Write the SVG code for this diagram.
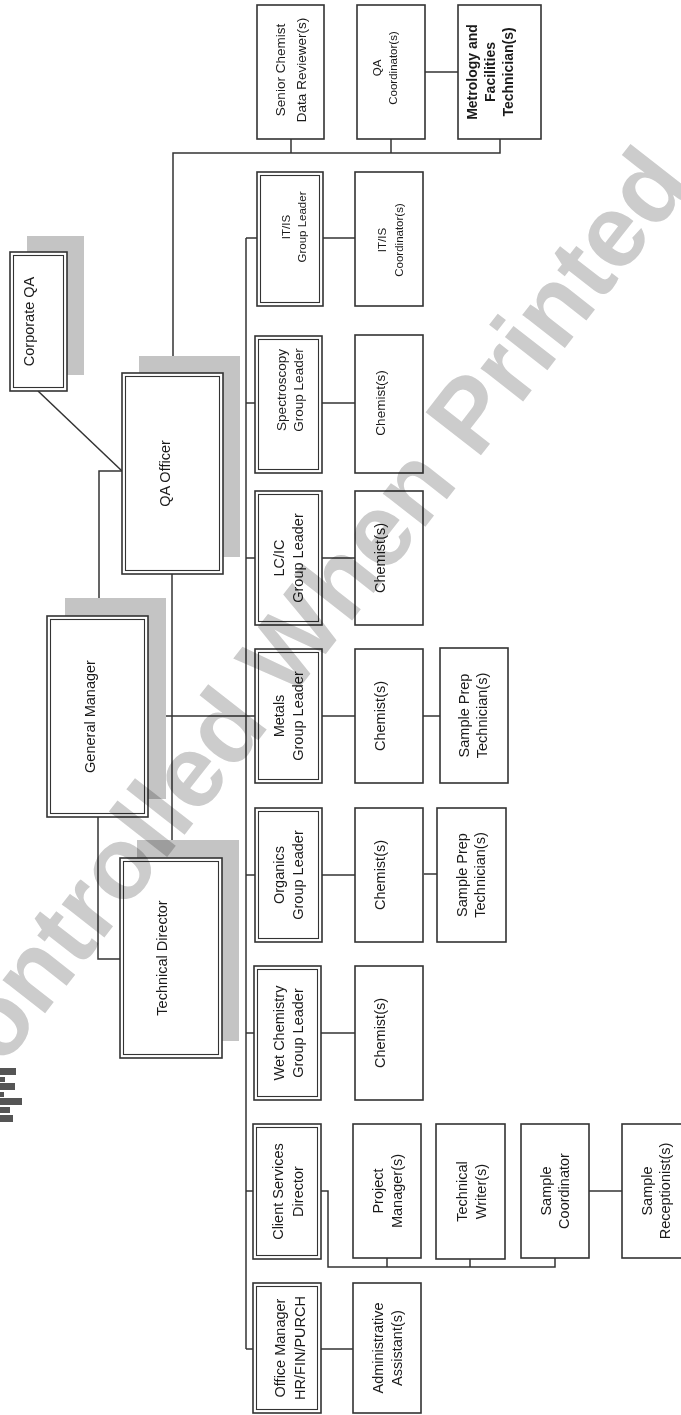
<svg xmlns="http://www.w3.org/2000/svg" width="681" height="1415" viewBox="0 0 681 1415">
<style>
.bg{fill:#fff}
.b{fill:#fff;stroke:#333;stroke-width:1.6}
.bi{fill:none;stroke:#333;stroke-width:1.1}
.sh{fill:#c4c4c4}
.c{fill:none;stroke:#333;stroke-width:1.5}
.t{font-family:"Liberation Sans",Arial,sans-serif;font-size:14.5px;fill:#1a1a1a;text-anchor:middle}
.s{font-size:11.5px}
.wm{font-family:"Liberation Sans",Arial,sans-serif;font-size:102px;font-weight:bold;fill:#cccccc;mix-blend-mode:multiply}
.logo{fill:#555}
</style>
<rect class="bg" x="0" y="0" width="681" height="1415"/>

<g id="connectors">
<line class="c" x1="38" y1="391" x2="122" y2="471"/>
<polyline class="c" points="122,471 99,471 99,616"/>
<polyline class="c" points="173,373 173,153 500,153 500,139"/>
<line class="c" x1="291" y1="153" x2="291" y2="139"/>
<line class="c" x1="391" y1="153" x2="391" y2="139"/>
<line class="c" x1="425" y1="72" x2="458" y2="72"/>
<line class="c" x1="172" y1="574" x2="172" y2="858"/>
<line class="c" x1="148" y1="716" x2="255" y2="716"/>
<polyline class="c" points="98,817 98,959 120,959"/>
<line class="c" x1="246" y1="238" x2="246" y2="1349"/>
<line class="c" x1="246" y1="238" x2="257" y2="238"/>
<line class="c" x1="246" y1="403" x2="255" y2="403"/>
<line class="c" x1="246" y1="558" x2="255" y2="558"/>
<line class="c" x1="246" y1="875" x2="255" y2="875"/>
<line class="c" x1="246" y1="1033" x2="254" y2="1033"/>
<line class="c" x1="246" y1="1191" x2="253" y2="1191"/>
<line class="c" x1="246" y1="1349" x2="253" y2="1349"/>
<line class="c" x1="323" y1="238" x2="355" y2="238"/>
<line class="c" x1="322" y1="403" x2="355" y2="403"/>
<line class="c" x1="322" y1="558" x2="355" y2="558"/>
<line class="c" x1="322" y1="716" x2="355" y2="716"/>
<line class="c" x1="322" y1="875" x2="355" y2="875"/>
<line class="c" x1="321" y1="1033" x2="355" y2="1033"/>
<line class="c" x1="321" y1="1349" x2="353" y2="1349"/>
<line class="c" x1="423" y1="716" x2="440" y2="716"/>
<line class="c" x1="424" y1="874" x2="437" y2="874"/>
<polyline class="c" points="321,1191 328,1191 328,1267 555,1267 555,1258"/>
<line class="c" x1="387" y1="1267" x2="387" y2="1258"/>
<line class="c" x1="470" y1="1267" x2="470" y2="1259"/>
<line class="c" x1="589" y1="1191" x2="622" y2="1191"/>
</g>

<g id="corporate-qa">
<rect class="sh" x="27" y="236" width="57" height="139"/>
<rect class="b" x="10" y="252" width="57" height="139"/>
<rect class="bi" x="13.5" y="255.5" width="50" height="132"/>
<text class="t" transform="translate(38.5,321.5) rotate(-90)"><tspan x="0" y="-4.5">Corporate QA</tspan></text>
</g>
<g id="qa-officer">
<rect class="sh" x="139" y="356" width="101" height="201"/>
<rect class="b" x="122" y="373" width="101" height="201"/>
<rect class="bi" x="125.5" y="376.5" width="94" height="194"/>
<text class="t" transform="translate(172.5,473.5) rotate(-90)"><tspan x="0" y="-3">QA Officer</tspan></text>
</g>
<g id="general-manager">
<rect class="sh" x="65" y="598" width="101" height="201"/>
<rect class="b" x="47" y="616" width="101" height="201"/>
<rect class="bi" x="50.5" y="619.5" width="94" height="194"/>
<text class="t" transform="translate(97.5,716.5) rotate(-90)"><tspan x="0" y="-3">General Manager</tspan></text>
</g>
<g id="technical-director">
<rect class="sh" x="137" y="840" width="102" height="201"/>
<rect class="b" x="120" y="858" width="102" height="200"/>
<rect class="bi" x="123.5" y="861.5" width="95" height="193"/>
<text class="t" transform="translate(171,958) rotate(-90)"><tspan x="0" y="-4">Technical Director</tspan></text>
</g>

<g id="senior-chemist">
<rect class="b" x="257" y="5" width="67" height="134"/>
<text class="t" style="font-size:13.5px" transform="translate(290.5,70) rotate(-90)"><tspan x="0" y="-5.5">Senior Chemist</tspan><tspan x="0" y="15.5">Data Reviewer(s)</tspan></text>
</g>
<g id="qa-coordinator">
<rect class="b" x="357" y="5" width="68" height="134"/>
<text class="t s" transform="translate(391,68) rotate(-90)"><tspan x="0" y="-10">QA</tspan><tspan x="0" y="6">Coordinator(s)</tspan></text>
</g>
<g id="metrology">
<rect class="b" x="458" y="5" width="83" height="134"/>
<text class="t" style="font-weight:bold;font-size:14px" transform="translate(499.5,72) rotate(-90)"><tspan x="0" y="-22.5">Metrology and</tspan><tspan x="0" y="-4.5">Facilities</tspan><tspan x="0" y="13.5">Technician(s)</tspan></text>
</g>

<g id="itis-leader">
<rect class="b" x="257" y="172" width="66" height="134"/>
<rect class="bi" x="260.5" y="175.5" width="59" height="127"/>
<text class="t s" transform="translate(290,227) rotate(-90)"><tspan x="0" y="-0">IT/IS</tspan><tspan x="0" y="16">Group Leader</tspan></text>
</g>
<g id="itis-coordinator">
<rect class="b" x="355" y="172" width="68" height="134"/>
<text class="t s" transform="translate(389,240) rotate(-90)"><tspan x="0" y="-3">IT/IS</tspan><tspan x="0" y="14">Coordinator(s)</tspan></text>
</g>

<g id="spectroscopy-leader">
<rect class="b" x="255" y="336" width="67" height="137"/>
<rect class="bi" x="258.5" y="339.5" width="60" height="130"/>
<text class="t" style="font-size:13.5px" transform="translate(288.5,390) rotate(-90)"><tspan x="0" y="-3">Spectroscopy</tspan><tspan x="0" y="14">Group Leader</tspan></text>
</g>
<g id="spectroscopy-chemist">
<rect class="b" x="355" y="335" width="68" height="138"/>
<text class="t" style="font-size:13.5px" transform="translate(389,403) rotate(-90)"><tspan x="0" y="-4">Chemist(s)</tspan></text>
</g>

<g id="lcic-leader">
<rect class="b" x="255" y="491" width="67" height="134"/>
<rect class="bi" x="258.5" y="494.5" width="60" height="127"/>
<text class="t" transform="translate(288.5,558) rotate(-90)"><tspan x="0" y="-5">LC/IC</tspan><tspan x="0" y="14">Group Leader</tspan></text>
</g>
<g id="lcic-chemist">
<rect class="b" x="355" y="491" width="68" height="134"/>
<text class="t" transform="translate(389,558) rotate(-90)"><tspan x="0" y="-4">Chemist(s)</tspan></text>
</g>

<g id="metals-leader">
<rect class="b" x="255" y="649" width="67" height="134"/>
<rect class="bi" x="258.5" y="652.5" width="60" height="127"/>
<text class="t" transform="translate(288.5,716) rotate(-90)"><tspan x="0" y="-5">Metals</tspan><tspan x="0" y="14">Group Leader</tspan></text>
</g>
<g id="metals-chemist">
<rect class="b" x="355" y="649" width="68" height="134"/>
<text class="t" transform="translate(389,716) rotate(-90)"><tspan x="0" y="-4">Chemist(s)</tspan></text>
</g>
<g id="metals-prep">
<rect class="b" x="440" y="648" width="68" height="135"/>
<text class="t" transform="translate(474,715.5) rotate(-90)"><tspan x="0" y="-5">Sample Prep</tspan><tspan x="0" y="13">Technician(s)</tspan></text>
</g>

<g id="organics-leader">
<rect class="b" x="255" y="808" width="67" height="134"/>
<rect class="bi" x="258.5" y="811.5" width="60" height="127"/>
<text class="t" transform="translate(288.5,875) rotate(-90)"><tspan x="0" y="-5">Organics</tspan><tspan x="0" y="14">Group Leader</tspan></text>
</g>
<g id="organics-chemist">
<rect class="b" x="355" y="808" width="68" height="134"/>
<text class="t" transform="translate(389,875) rotate(-90)"><tspan x="0" y="-4">Chemist(s)</tspan></text>
</g>
<g id="organics-prep">
<rect class="b" x="437" y="808" width="69" height="134"/>
<text class="t" transform="translate(471.5,875) rotate(-90)"><tspan x="0" y="-5">Sample Prep</tspan><tspan x="0" y="13">Technician(s)</tspan></text>
</g>

<g id="wetchem-leader">
<rect class="b" x="254" y="966" width="67" height="134"/>
<rect class="bi" x="257.5" y="969.5" width="60" height="127"/>
<text class="t" transform="translate(287.5,1033) rotate(-90)"><tspan x="0" y="-4">Wet Chemistry</tspan><tspan x="0" y="15">Group Leader</tspan></text>
</g>
<g id="wetchem-chemist">
<rect class="b" x="355" y="966" width="68" height="134"/>
<text class="t" transform="translate(389,1033) rotate(-90)"><tspan x="0" y="-4">Chemist(s)</tspan></text>
</g>

<g id="client-services">
<rect class="b" x="253" y="1124" width="68" height="135"/>
<rect class="bi" x="256.5" y="1127.5" width="61" height="128"/>
<text class="t" transform="translate(287,1191.5) rotate(-90)"><tspan x="0" y="-4">Client Services</tspan><tspan x="0" y="16">Director</tspan></text>
</g>
<g id="project-manager">
<rect class="b" x="353" y="1124" width="68" height="134"/>
<text class="t" transform="translate(387,1191) rotate(-90)"><tspan x="0" y="-4">Project</tspan><tspan x="0" y="15">Manager(s)</tspan></text>
</g>
<g id="technical-writer">
<rect class="b" x="436" y="1124" width="69" height="135"/>
<text class="t" transform="translate(470.5,1191.5) rotate(-90)"><tspan x="0" y="-4">Technical</tspan><tspan x="0" y="15">Writer(s)</tspan></text>
</g>
<g id="sample-coordinator">
<rect class="b" x="521" y="1124" width="68" height="134"/>
<text class="t" transform="translate(555,1191) rotate(-90)"><tspan x="0" y="-4">Sample</tspan><tspan x="0" y="14">Coordinator</tspan></text>
</g>
<g id="sample-receptionist">
<rect class="b" x="622" y="1124" width="68" height="134"/>
<text class="t" transform="translate(656,1191) rotate(-90)"><tspan x="0" y="-4">Sample</tspan><tspan x="0" y="14">Receptionist(s)</tspan></text>
</g>

<g id="office-manager">
<rect class="b" x="253" y="1283" width="68" height="130"/>
<rect class="bi" x="256.5" y="1286.5" width="61" height="123"/>
<text class="t" transform="translate(287,1348) rotate(-90)"><tspan x="0" y="-2.5">Office Manager</tspan><tspan x="0" y="17.5">HR/FIN/PURCH</tspan></text>
</g>
<g id="admin-assistant">
<rect class="b" x="353" y="1283" width="68" height="130"/>
<text class="t" transform="translate(387,1348) rotate(-90)"><tspan x="0" y="-4">Administrative</tspan><tspan x="0" y="15">Assistant(s)</tspan></text>
</g>

<g id="logo">
<rect class="logo" x="0" y="1068" width="16" height="7"/>
<rect class="logo" x="0" y="1077" width="5" height="5"/>
<rect class="logo" x="0" y="1083" width="15" height="7"/>
<rect class="logo" x="0" y="1092" width="4" height="5"/>
<rect class="logo" x="0" y="1098" width="22" height="7"/>
<rect class="logo" x="0" y="1107" width="10" height="6"/>
<rect class="logo" x="0" y="1115" width="13" height="7"/>
</g>

<text class="wm" transform="translate(-43,1126) rotate(-52)">Controlled When Printed</text>
</svg>
